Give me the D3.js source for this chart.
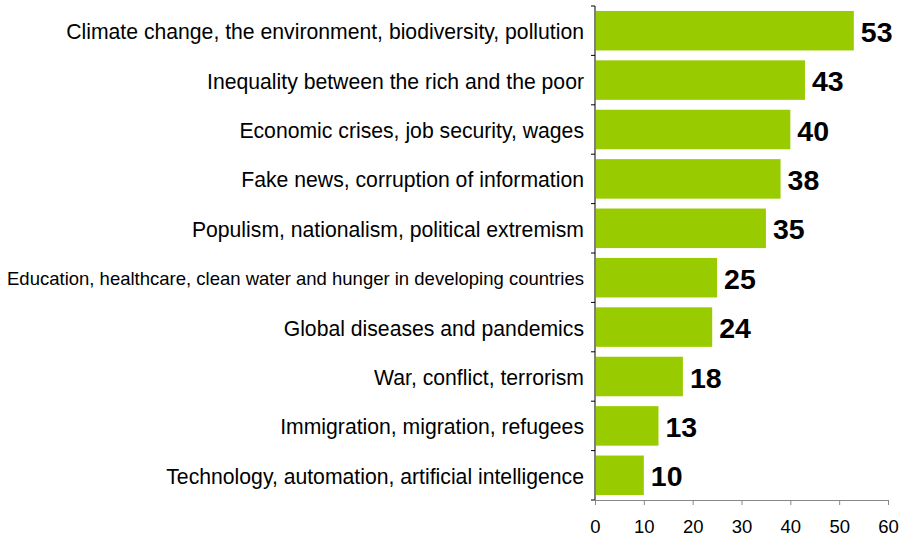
<!DOCTYPE html>
<html>
<head>
<meta charset="utf-8">
<script src="https://cdn.jsdelivr.net/npm/d3@7"></script>
<style>
  body { margin: 0; background: #fff; }
  svg { display: block; font-family: "Liberation Sans", Arial, sans-serif; }
</style>
</head>
<body>
<div class="chart"></div>
<script>
const categories = [
  "Climate change, the environment, biodiversity, pollution",
  "Inequality between the rich and the poor",
  "Economic crises, job security, wages",
  "Fake news, corruption of information",
  "Populism, nationalism, political extremism",
  "Education, healthcare, clean water and hunger in developing countries",
  "Global diseases and pandemics",
  "War, conflict, terrorism",
  "Immigration, migration, refugees",
  "Technology, automation, artificial intelligence"
];
const values = [53, 43, 40, 38, 35, 25, 24, 18, 13, 10];
const xTicks = [0, 10, 20, 30, 40, 50, 60];

const width = 899, height = 540;
const margin = {top: 6, right: 11, bottom: 40, left: 595};

const svg = d3.select('.chart')
  .append('svg')
  .attr('width', width)
  .attr('height', height);

const xScale = d3.scaleLinear()
  .domain([0, 60])
  .range([margin.left, 888]);

const yScale = d3.scaleBand()
  .domain(categories)
  .range([margin.top, height - margin.bottom])
  .paddingInner(0.2)
  .paddingOuter(0.1);

// bars
svg.selectAll('rect.bar')
  .data(values)
  .enter()
  .append('rect')
  .attr('class', 'bar')
  .attr('x', xScale(0) + 1)
  .attr('y', (d, i) => yScale(categories[i]))
  .attr('width', d => xScale(d) - xScale(0) - 1)
  .attr('height', yScale.bandwidth())
  .attr('fill', '#99cc00');

// value labels
svg.selectAll('text.val')
  .data(values)
  .enter()
  .append('text')
  .attr('class', 'val')
  .attr('x', d => xScale(d) + 7)
  .attr('y', (d, i) => yScale(categories[i]) + yScale.bandwidth() / 2 + 11)
  .attr('font-size', 28.5)
  .attr('font-weight', 'bold')
  .attr('fill', '#000')
  .text(d => d);

// y axis: line + ticks at band boundaries
const yAxis = svg.append('g').attr('class', 'y-axis');
yAxis.append('line')
  .attr('x1', margin.left).attr('x2', margin.left)
  .attr('y1', margin.top).attr('y2', height - margin.bottom)
  .attr('stroke', '#000');
const bounds = d3.range(categories.length + 1).map(i => margin.top + i * (height - margin.bottom - margin.top) / categories.length);
yAxis.selectAll('line.tick')
  .data(bounds)
  .enter()
  .append('line')
  .attr('class', 'tick')
  .attr('x1', margin.left - 4).attr('x2', margin.left)
  .attr('y1', d => d).attr('y2', d => d)
  .attr('stroke', '#000');

// category labels
svg.selectAll('text.cat')
  .data(categories)
  .enter()
  .append('text')
  .attr('class', 'cat')
  .attr('x', 584)
  .attr('y', d => yScale(d) + yScale.bandwidth() / 2 + 1)
  .attr('dy', '0.35em')
  .attr('text-anchor', 'end')
  .attr('font-size', d => d.length > 60 ? 18.5 : 21.2)
  .attr('fill', '#000')
  .text(d => d);

// x axis
const xAxis = d3.axisBottom(xScale)
  .tickValues(xTicks)
  .tickSize(5)
  .tickSizeOuter(0);
const xg = svg.append('g')
  .attr('transform', `translate(0, ${height - margin.bottom})`)
  .call(xAxis);
xg.select('.domain').attr('stroke', '#888');
xg.selectAll('.tick line').attr('stroke', '#888');
xg.selectAll('.tick text')
  .attr('font-size', 18.5)
  .attr('font-family', '"Liberation Sans", Arial, sans-serif')
  .attr('fill', '#000')
  .attr('y', 33)
  .attr('dy', null);

// footer, mostly cut off at the bottom edge
svg.append('text')
  .attr('x', 8)
  .attr('y', 548)
  .attr('font-size', 11)
  .attr('fill', '#000')
  .text('Copyright 2020');
</script>
</body>
</html>
